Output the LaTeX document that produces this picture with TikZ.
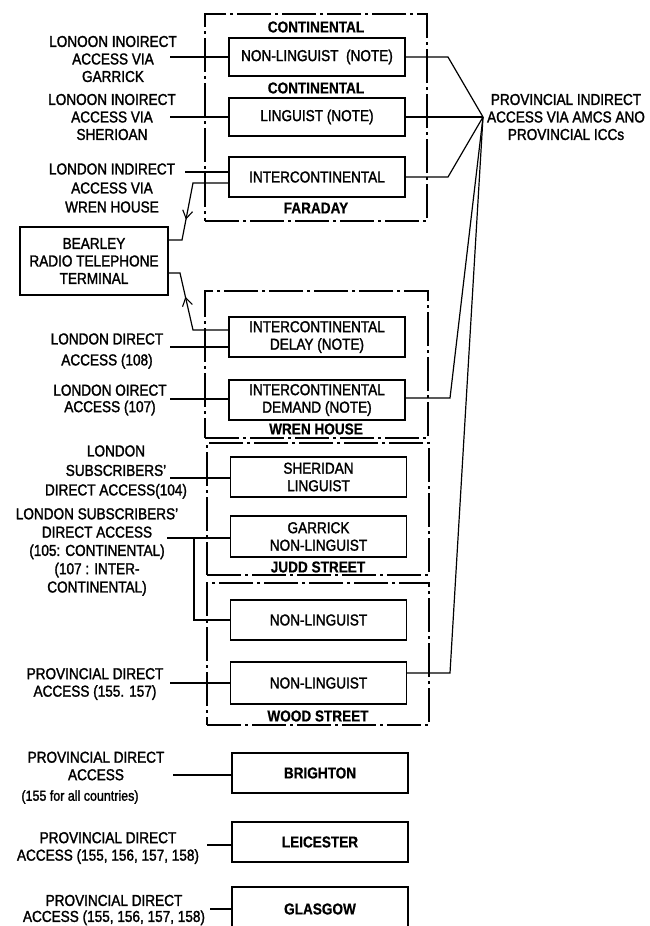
\documentclass[tikz,border=0pt]{standalone}
\usepackage{fontspec}
\setmainfont{Liberation Sans}[FakeStretch=0.86, FakeBold=1.6, BoldFeatures={FakeBold=0.6}]
\usetikzlibrary{arrows.meta,decorations.markings,calc}
\begin{document}
\begin{tikzpicture}[x=1pt,y=-1pt,
  txt/.style={font=\fontsize{15.8}{17.5}\selectfont, align=center, inner sep=0pt},
  lbl/.style={font=\bfseries\fontsize{15.8}{17.5}\selectfont, align=center, inner sep=0pt},
  small/.style={font=\fontsize{14.5}{16}\selectfont, align=center, inner sep=0pt},
  box/.style={draw, line width=1.2pt, minimum width=176pt, minimum height=40pt, txt},
  bbox/.style={box, font=\bfseries\fontsize{15.8}{17.5}\selectfont},
  outer/.style={draw, line width=2pt, dash pattern=on 34pt off 4pt on 3pt off 4pt},
  conn/.style={line width=1.2pt},
  arr/.style={postaction={decorate}, decoration={markings, mark=at position #1 with {\arrow{Straight Barb[length=8pt,width=10pt,line width=1.1pt]}}}}
]
\useasboundingbox (0,0) rectangle (650,926);
\fill[white] (0,0) rectangle (650,926);
\clip (0,0) rectangle (650,926);

% outer exchange boxes
\node[outer, minimum width=222pt, minimum height=207pt] (faraday) at (316,117.5) {};
\node[outer, minimum width=223pt, minimum height=147pt] (wren) at (316.5,364.5) {};
\node[outer, minimum width=222pt, minimum height=132pt] (judd) at (318,509) {};
\node[outer, minimum width=222pt, minimum height=142pt] (wood) at (318,654) {};

% section labels
\node[lbl] (lcont1) at (316,27) {CONTINENTAL};
\node[lbl] (lcont2) at (316,88) {CONTINENTAL};
\node[lbl] (lfar) at (316,208) {FARADAY};
\node[lbl] (lwren) at (316,429) {WREN HOUSE};
\node[lbl] (ljudd) at (318,567) {JUDD STREET};
\node[lbl] (lwood) at (318,716) {WOOD STREET};

% inner boxes
\node[box, minimum height=38pt] (nlnote) at (317,57) {NON-LINGUIST\ \ (NOTE)};
\node[box, minimum height=38pt] (lingnote) at (317,117) {LINGUIST (NOTE)};
\node[box] (ic) at (317,177) {INTERCONTINENTAL};
\node[box] (delay) at (317,337) {INTERCONTINENTAL\\DELAY (NOTE)};
\node[box] (demand) at (317,400) {INTERCONTINENTAL\\DEMAND (NOTE)};
\node[box] (sheridan) at (318.5,477) {SHERIDAN\\LINGUIST};
\node[box, minimum height=41pt] (garrick) at (318.5,536.5) {GARRICK\\NON-LINGUIST};
\node[box] (nlw1) at (318.5,620) {NON-LINGUIST};
\node[box, minimum height=42pt] (nlw2) at (318.5,683) {NON-LINGUIST};
\node[bbox] (brighton) at (320,773) {BRIGHTON};
\node[bbox] (leicester) at (320,842) {LEICESTER};
\node[bbox, minimum height=44pt] (glasgow) at (320,909) {GLASGOW};

% Bearley
\node[draw, line width=1.2pt, minimum width=148pt, minimum height=68pt, txt] (bearley) at (94,261) {BEARLEY\\RADIO TELEPHONE\\TERMINAL};

% left labels
\node[txt] (t1) at (113,59) {LONOON INOIRECT\\ACCESS VIA\\GARRICK};
\node[txt] (t2) at (112,117) {LONOON INOIRECT\\ACCESS VIA\\SHERIOAN};
\node[txt, font=\fontsize{15.8}{19}\selectfont] (t3) at (112,188) {LONDON INDIRECT\\ACCESS VIA\\WREN HOUSE};
\node[txt, font=\fontsize{15.8}{21}\selectfont] (t4) at (107,351) {LONDON DIRECT\\ACCESS (108)};
\node[txt, font=\fontsize{15.8}{16.5}\selectfont] (t5) at (110,400) {LONDON OIRECT\\ACCESS (107)};
\node[txt, font=\fontsize{15.8}{19.5}\selectfont] (t6) at (116,472) {LONDON\\SUBSCRIBERS'\\DIRECT ACCESS(104)};
\node[txt, font=\fontsize{15.8}{18.3}\selectfont] (t7) at (97,552) {LONDON SUBSCRIBERS'\\DIRECT ACCESS\\(105: CONTINENTAL)\\(107 : INTER-\\CONTINENTAL)};
\node[txt] (t8) at (95,684) {PROVINCIAL DIRECT\\ACCESS (155. 157)};
\node[txt] (t9) at (96,766) {PROVINCIAL DIRECT\\ACCESS};
\node[small] (t9b) at (80,797) {(155 for all countries)};
\node[txt] (t10) at (108,848) {PROVINCIAL DIRECT\\ACCESS (155, 156, 157, 158)};
\node[txt, font=\fontsize{15.8}{16}\selectfont] (t11) at (114,910) {PROVINCIAL DIRECT\\ACCESS (155, 156, 157, 158)};

% right label
\node[txt] (prov) at (566,117) {PROVINCIAL INDIRECT\\ACCESS VIA AMCS ANO\\PROVINCIAL ICCs};

% left connectors
\coordinate (lg) at (170,57);
\coordinate (ls) at (170,117);
\coordinate (lw) at (185,172);
\coordinate (l108) at (170,347);
\coordinate (l107) at (170,399);
\coordinate (l104) at (170,478);
\coordinate (l105) at (167,538);
\coordinate (jn) at (194,538);
\coordinate (jd) at (194,620);
\coordinate (lp1) at (170,683);
\coordinate (lp2) at (173,775);
\coordinate (lp3) at (207,845);
\coordinate (lp4) at (210,909);
\draw[conn] (lg) -- (lg -| nlnote.west);
\draw[conn] (ls) -- (ls -| lingnote.west);
\draw[conn] (lw) -- (lw -| ic.west);
\draw[conn] (l108) -- (l108 -| delay.west);
\draw[conn] (l107) -- (l107 -| demand.west);
\draw[conn] (l104) -- (l104 -| sheridan.west);
\draw[conn] (l105) -- (l105 -| garrick.west);
\draw[conn] (jn) -- (jd) -- (jd -| nlw1.west);
\draw[conn] (lp1) -- (lp1 -| nlw2.west);
\draw[conn] (lp2) -- (lp2 -| brighton.west);
\draw[conn] (lp3) -- (lp3 -| leicester.west);
\draw[conn] (lp4) -- (lp4 -| glasgow.west);

% Bearley connectors
\coordinate (ba0) at (229,183);
\coordinate (ba1) at (193,183);
\coordinate (ba2) at (182,240);
\draw[conn, arr=0.68] (ba0 -| ic.west) -- (ba1) -- (ba2) -- (ba2 -| bearley.east);
\coordinate (bb1) at (193,330);
\coordinate (bb2) at (180,273);
\draw[conn, arr=0.66] (bb1 -| delay.west) -- (bb1) -- (bb2) -- (bb2 -| bearley.east);

% right connectors
\coordinate (conv) at (483,117);
\coordinate (r1) at (448,57);
\coordinate (r3) at (448,177);
\coordinate (rd) at (450,398);
\coordinate (rw) at (450,673);
\draw[conn] (nlnote.east) -- (r1) -- (conv);
\draw[conn] (lingnote.east) -- (conv);
\draw[conn] (ic.east) -- (r3) -- (conv);
\draw[conn] (rd -| demand.east) -- (rd) -- (conv);
\draw[conn] (rw -| nlw2.east) -- (rw) -- (conv);
\end{tikzpicture}
\end{document}
